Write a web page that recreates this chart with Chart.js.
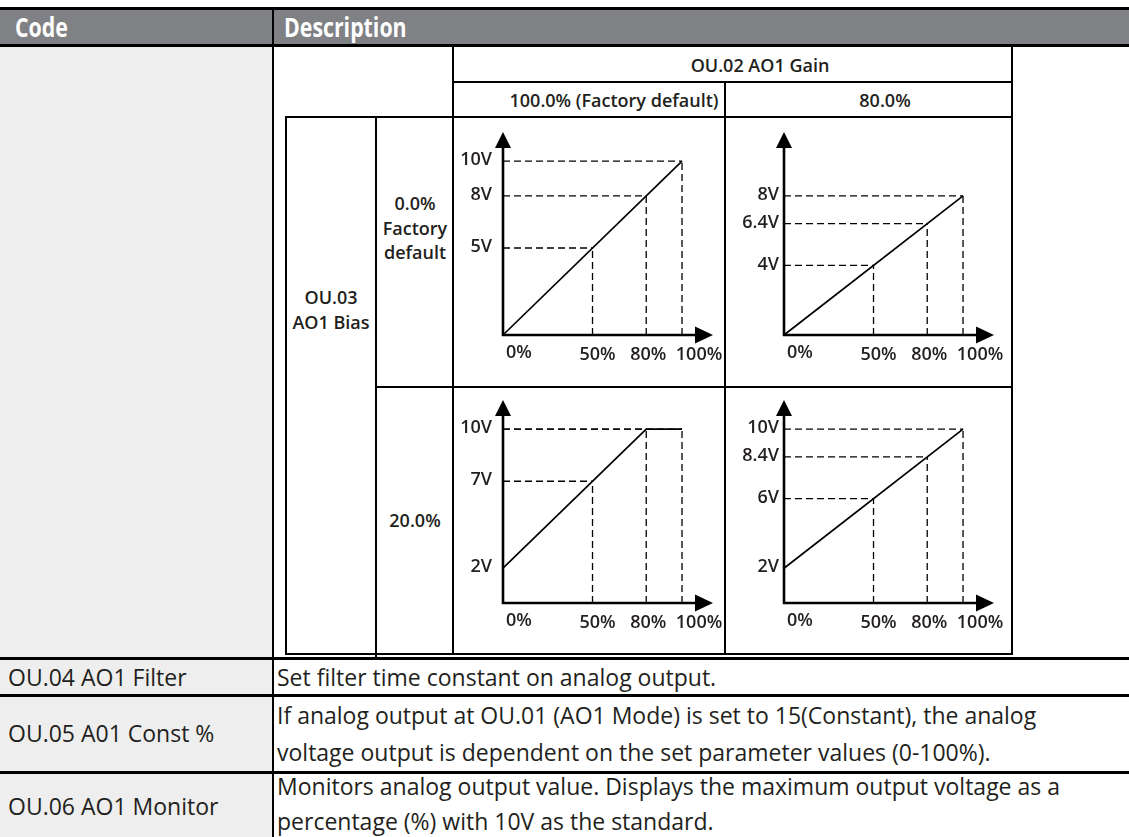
<!DOCTYPE html>
<html>
<head>
<meta charset="utf-8">
<script src="https://cdn.jsdelivr.net/npm/chart.js@4.4.1/dist/chart.umd.min.js"></script>
<style>
  body { margin: 0; background: #fff; width: 1129px; height: 837px; position: relative; overflow: hidden; font-family: "Open Sans", sans-serif; color: #231f20; }
  .ln { position: absolute; background: #000; }
  .t { position: absolute; white-space: nowrap; line-height: 1; }
  .c { transform: translate(-50%, -50%); }
  .l { transform: translateY(-50%); }
  .lab { font-weight: 600; font-size: 18px; }
  .body { font-size: 23px; }
  .hd { color: #fff; font-weight: 700; font-size: 26px; transform: translateY(-50%) scaleX(0.82); transform-origin: left center; }
  canvas { position: absolute; }
</style>
</head>
<body>
<!-- table frame -->
<div style="position:absolute;left:0;top:10px;width:1129px;height:34px;background:#808184"></div>
<div style="position:absolute;left:0;top:47px;width:272px;height:790px;background:#eeeeee"></div>
<div class="ln" style="left:0;top:7px;width:1129px;height:3px"></div>
<div class="ln" style="left:0;top:44px;width:1129px;height:3px"></div>
<div class="ln" style="left:272px;top:7px;width:2px;height:830px"></div>
<div class="ln" style="left:0;top:657px;width:1129px;height:3px"></div>
<div class="ln" style="left:0;top:694px;width:1129px;height:2.5px"></div>
<div class="ln" style="left:0;top:771px;width:1129px;height:3px"></div>

<!-- inner diagram table -->
<div class="ln" style="left:452px;top:47px;width:2px;height:608px"></div>
<div class="ln" style="left:1011px;top:47px;width:2px;height:608px"></div>
<div class="ln" style="left:453px;top:81px;width:560px;height:2px"></div>
<div class="ln" style="left:285px;top:116px;width:728px;height:2px"></div>
<div class="ln" style="left:724px;top:82px;width:2px;height:573px"></div>
<div class="ln" style="left:285px;top:116px;width:2px;height:539px"></div>
<div class="ln" style="left:375px;top:116px;width:2px;height:544px"></div>
<div class="ln" style="left:375px;top:386px;width:638px;height:2px"></div>
<div class="ln" style="left:285px;top:653px;width:728px;height:1.5px"></div>

<!-- header text -->
<div class="t hd" style="left:15px;top:27px">Code</div>
<div class="t hd" style="left:284px;top:27px">Description</div>

<!-- diagram headings -->
<div class="t c lab" style="left:760px;top:65px">OU.02 AO1 Gain</div>
<div class="t c lab" style="left:614px;top:100px">100.0% (Factory default)</div>
<div class="t c lab" style="left:885px;top:100px">80.0%</div>
<div class="t c lab" style="left:331px;top:297px">OU.03</div>
<div class="t c lab" style="left:331px;top:322px">AO1 Bias</div>
<div class="t c lab" style="left:415px;top:203px">0.0%</div>
<div class="t c lab" style="left:415px;top:228px">Factory</div>
<div class="t c lab" style="left:415px;top:252px">default</div>
<div class="t c lab" style="left:415px;top:520px">20.0%</div>

<!-- other rows -->
<div class="t l body" style="left:8px;top:677px">OU.04 AO1 Filter</div>
<div class="t l body" style="left:277px;top:677px">Set filter time constant on analog output.</div>
<div class="t l body" style="left:8px;top:733px">OU.05 A01 Const %</div>
<div class="t l body" style="left:277px;top:715px">If analog output at OU.01 (AO1 Mode) is set to 15(Constant), the analog</div>
<div class="t l body" style="left:277px;top:752px">voltage output is dependent on the set parameter values (0-100%).</div>
<div class="t l body" style="left:8px;top:806px">OU.06 AO1 Monitor</div>
<div class="t l body" style="left:277px;top:786px">Monitors analog output value. Displays the maximum output voltage as a</div>
<div class="t l body" style="left:277px;top:821px">percentage (%) with 10V as the standard.</div>

<canvas id="gA" width="272" height="270" style="left:453px;top:117px"></canvas>
<canvas id="gB" width="287" height="270" style="left:725px;top:117px"></canvas>
<canvas id="gC" width="272" height="268" style="left:453px;top:387px"></canvas>
<canvas id="gD" width="287" height="268" style="left:725px;top:387px"></canvas>

<script>
// x axis (output %), shared by all four graphs
const xTicks = [0, 50, 80, 100];
const xTickLabels = ['0%', '50%', '80%', '100%'];

// gain 100%, bias 0%
const aLineX = [0, 100];
const aLineY = [0, 10];
const aMarkX = [50, 80, 100];
const aMarkY = [5, 8, 10];
const aYTicks = [5, 8, 10];
const aYLabels = ['5V', '8V', '10V'];

// gain 80%, bias 0%
const bLineX = [0, 100];
const bLineY = [0, 8];
const bMarkX = [50, 80, 100];
const bMarkY = [4, 6.4, 8];
const bYTicks = [4, 6.4, 8];
const bYLabels = ['4V', '6.4V', '8V'];

// gain 100%, bias 20%
const cLineX = [0, 80, 100];
const cLineY = [2, 10, 10];
const cMarkX = [50, 80, 100];
const cMarkY = [7, 10, 10];
const cYTicks = [2, 7, 10];
const cYLabels = ['2V', '7V', '10V'];

// gain 80%, bias 20%
const dLineX = [0, 100];
const dLineY = [2, 10];
const dMarkX = [50, 80, 100];
const dMarkY = [6, 8.4, 10];
const dYTicks = [2, 6, 8.4, 10];
const dYLabels = ['2V', '6V', '8.4V', '10V'];

// axis ranges (arrow tips)
const xMax = 117.3;
const yMax = 11.67;

// label nudges, px
const xLabelShift = [16, 5, 2, 17];

function axesPlugin(yTicks, yLabels, yGap) {
  return {
    id: 'arrowAxes',
    afterDatasetsDraw(chart) {
      const ctx = chart.ctx;
      const xs = chart.scales.x, ys = chart.scales.y;
      const x0 = xs.getPixelForValue(0), y0 = ys.getPixelForValue(0);
      const xEnd = xs.getPixelForValue(xMax), yEnd = ys.getPixelForValue(yMax);
      ctx.save();
      ctx.strokeStyle = '#000';
      ctx.fillStyle = '#000';
      ctx.lineWidth = 2.6;
      ctx.beginPath();
      ctx.moveTo(x0, y0 + 1);
      ctx.lineTo(x0, yEnd + 12);
      ctx.moveTo(x0 - 1, y0);
      ctx.lineTo(xEnd - 14, y0);
      ctx.stroke();
      // arrow heads
      ctx.beginPath();
      ctx.moveTo(x0, yEnd);
      ctx.lineTo(x0 - 8, yEnd + 16);
      ctx.lineTo(x0 + 8, yEnd + 16);
      ctx.closePath();
      ctx.fill();
      ctx.beginPath();
      ctx.moveTo(xEnd, y0);
      ctx.lineTo(xEnd - 18, y0 - 8.5);
      ctx.lineTo(xEnd - 18, y0 + 8.5);
      ctx.closePath();
      ctx.fill();

      ctx.fillStyle = '#231f20';
      ctx.font = '600 18px "Open Sans"';
      ctx.textBaseline = 'middle';
      ctx.textAlign = 'center';
      xTicks.forEach((v, i) => {
        const dy = i === 0 ? 18 : 20;
        ctx.fillText(xTickLabels[i], xs.getPixelForValue(v) + xLabelShift[i], y0 + dy);
      });
      ctx.textAlign = 'right';
      yTicks.forEach((v, i) => {
        ctx.fillText(yLabels[i], x0 - yGap, ys.getPixelForValue(v) - 1);
      });
      ctx.restore();
    }
  };
}

function makeChart(id, pad, lineX, lineY, markX, markY, yTicks, yLabels, yGap) {
  const dash = { showLine: true, borderColor: '#000', borderWidth: 1.3, borderDash: [7, 4], pointRadius: 0, clip: false };
  const sets = [];
  markX.forEach((x, i) => {
    sets.push({ ...dash, data: [{ x: 0, y: markY[i] }, { x: x, y: markY[i] }] });
    sets.push({ ...dash, data: [{ x: x, y: 0 }, { x: x, y: markY[i] }] });
  });
  sets.push({
    showLine: true, borderColor: '#000', borderWidth: 1.7, pointRadius: 0, clip: false,
    data: lineX.map((x, i) => ({ x: x, y: lineY[i] }))
  });
  return new Chart(document.getElementById(id), {
    type: 'scatter',
    data: { datasets: sets },
    options: {
      responsive: false,
      animation: false,
      devicePixelRatio: 1,
      events: [],
      layout: { padding: pad },
      plugins: { legend: { display: false }, tooltip: { enabled: false } },
      scales: {
        x: { type: 'linear', min: 0, max: xMax, display: false },
        y: { type: 'linear', min: 0, max: yMax, display: false }
      }
    },
    plugins: [axesPlugin(yTicks, yLabels, yGap)]
  });
}

makeChart('gA', { left: 50, right: 12, top: 15, bottom: 52 }, aLineX, aLineY, aMarkX, aMarkY, aYTicks, aYLabels, 11);
makeChart('gB', { left: 59, right: 18, top: 15, bottom: 52 }, bLineX, bLineY, bMarkX, bMarkY, bYTicks, bYLabels, 5);
makeChart('gC', { left: 50, right: 12, top: 13, bottom: 52 }, cLineX, cLineY, cMarkX, cMarkY, cYTicks, cYLabels, 11);
makeChart('gD', { left: 59, right: 18, top: 13, bottom: 52 }, dLineX, dLineY, dMarkX, dMarkY, dYTicks, dYLabels, 5);
</script>
</body>
</html>
